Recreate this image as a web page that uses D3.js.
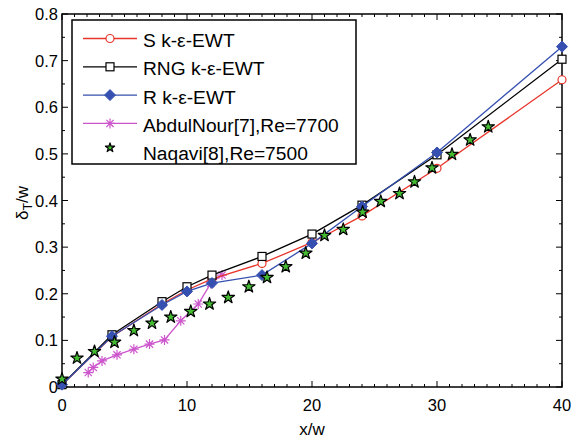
<!DOCTYPE html>
<html lang='en'>
<head>
<meta charset='utf8'>
<title>delta_T / w</title>
<script src="https://cdn.jsdelivr.net/npm/d3@7"></script>
<style>
  body { margin: 0; background: #fff; }
  svg text { font-family: 'Liberation Sans', Arial, sans-serif; fill: #000; }
</style>
</head>
<body>
<svg id='chart' width='579' height='443'></svg>
<script>
// simulation series (x/w, delta_T/w)
var simX = [0, 4, 8, 10, 12, 16, 20, 24, 30, 40];
var sKe = [0.005, 0.108, 0.178, 0.208, 0.232, 0.265, 0.31, 0.367, 0.469, 0.659];
var rngKe = [0.005, 0.112, 0.183, 0.215, 0.24, 0.28, 0.328, 0.39, 0.498, 0.703];
var rKe = [0.005, 0.109, 0.176, 0.205, 0.223, 0.24, 0.308, 0.387, 0.503, 0.73];

// AbdulNour[7], Re=7700
var abdX = [2.1, 2.5, 3.2, 4.4, 5.75, 7.0, 8.2, 9.5, 10.9, 11.9, 12.8];
var abdY = [0.031, 0.042, 0.056, 0.069, 0.081, 0.092, 0.101, 0.142, 0.178, 0.222, 0.24];

// Naqavi[8], Re=7500
var naqX = [0, 1.2, 2.6, 4.2, 5.75, 7.2, 8.7, 10.3, 11.8, 13.3, 14.95, 16.4, 17.9, 19.5,
            21, 22.5, 24.05, 25.5, 27, 28.2, 29.6, 31.2, 32.65, 34.1];
var naqY = [0.017, 0.062, 0.076, 0.096, 0.121, 0.137, 0.15, 0.162, 0.178, 0.192, 0.215, 0.235,
            0.258, 0.287, 0.325, 0.338, 0.375, 0.398, 0.415, 0.44, 0.47, 0.499, 0.53, 0.558];

var legendLabels = ['S k-\u03b5-EWT', 'RNG k-\u03b5-EWT', 'R k-\u03b5-EWT',
                    'AbdulNour[7],Re=7700', 'Naqavi[8],Re=7500'];

var svg = d3.select('#chart');
var pL = 62, pR = 562, pT = 14, pB = 387;

var x = d3.scaleLinear().domain([0, 40]).range([pL, pR]);
var y = d3.scaleLinear().domain([0, 0.8]).range([pB, pT]);

// frame
svg.append('rect')
  .attr('x', pL).attr('y', pT)
  .attr('width', pR - pL).attr('height', pB - pT)
  .attr('fill', 'none').attr('stroke', '#000').attr('stroke-width', 1.5);

// ticks (inward, all four sides)
var tk = svg.append('g').attr('stroke', '#000').attr('stroke-width', 1);
d3.range(0, 40.01, 1).forEach(function(v) {
  var len = (v % 10 === 0) ? 6 : 3;
  tk.append('line').attr('x1', x(v)).attr('x2', x(v)).attr('y1', pB).attr('y2', pB - len);
  tk.append('line').attr('x1', x(v)).attr('x2', x(v)).attr('y1', pT).attr('y2', pT + len);
});
d3.range(0, 0.801, 0.05).forEach(function(v) {
  var major = Math.abs(Math.round(v * 10) - v * 10) < 1e-6;
  var len = major ? 6 : 3;
  tk.append('line').attr('y1', y(v)).attr('y2', y(v)).attr('x1', pL).attr('x2', pL + len);
  tk.append('line').attr('y1', y(v)).attr('y2', y(v)).attr('x1', pR).attr('x2', pR - len);
});

// tick labels
[0, 10, 20, 30, 40].forEach(function(v) {
  svg.append('text').attr('x', x(v)).attr('y', pB + 24)
    .attr('text-anchor', 'middle').attr('font-size', 16.5).text(v);
});
d3.range(0, 0.801, 0.1).forEach(function(v) {
  svg.append('text').attr('x', pL - 4).attr('y', y(v) + 6)
    .attr('text-anchor', 'end').attr('font-size', 16.5)
    .text(v < 1e-6 ? '0' : d3.format('.1f')(v));
});

// axis titles
svg.append('text').attr('x', (pL + pR) / 2).attr('y', 435)
  .attr('text-anchor', 'middle').attr('font-size', 17).text('x/w');
var yl = svg.append('text')
  .attr('transform', 'translate(28,203) rotate(-90)')
  .attr('text-anchor', 'middle').attr('font-size', 17);
yl.append('tspan').text('\u03b4');
yl.append('tspan').attr('dy', 4).attr('font-size', 12.5).text('T');
yl.append('tspan').attr('dy', -4).text('/w');

// markers
var starPath = d3.symbol().type(d3.symbolStar).size(48)();
var starSmall = d3.symbol().type(d3.symbolStar).size(26)();
var diamondPath = 'M0,-5.5L5.5,0L0,5.5L-5.5,0Z';
var asterisk = 'M0,-5V5M-5,0H5M-3.6,-3.6L3.6,3.6M-3.6,3.6L3.6,-3.6';

function drawMarker(g, kind, px, py) {
  if (kind === 'circle') {
    g.append('circle').attr('cx', px).attr('cy', py).attr('r', 4)
      .attr('fill', '#fff').attr('stroke', '#e8352b').attr('stroke-width', 1.2);
  } else if (kind === 'square') {
    g.append('rect').attr('x', px - 4).attr('y', py - 4).attr('width', 8).attr('height', 8)
      .attr('fill', '#fff').attr('stroke', '#000').attr('stroke-width', 1.2);
  } else if (kind === 'diamond') {
    g.append('path').attr('d', diamondPath).attr('transform', 'translate(' + px + ',' + py + ')')
      .attr('fill', '#3550b0').attr('stroke', '#3550b0');
  } else if (kind === 'asterisk') {
    g.append('path').attr('d', asterisk).attr('transform', 'translate(' + px + ',' + py + ')')
      .attr('fill', 'none').attr('stroke', '#cc55cc').attr('stroke-width', 1.2);
  } else if (kind === 'star' || kind === 'starSmall') {
    g.append('path').attr('d', kind === 'star' ? starPath : starSmall)
      .attr('transform', 'translate(' + px + ',' + py + ')')
      .attr('fill', '#44bb33').attr('stroke', '#000').attr('stroke-width', 1.2)
      .attr('stroke-linejoin', 'round');
  }
}

var series = [
  { xs: abdX, ys: abdY, color: '#cc55cc', marker: 'asterisk' },
  { xs: simX, ys: sKe, color: '#e8352b', marker: 'circle' },
  { xs: simX, ys: rngKe, color: '#000', marker: 'square' },
  { xs: simX, ys: rKe, color: '#3550b0', marker: 'diamond' }
];

var line = d3.line();
var plot = svg.append('g');
series.forEach(function(s) {
  var pts = s.xs.map(function(v, i) { return [x(v), y(s.ys[i])]; });
  plot.append('path').attr('d', line(pts)).attr('fill', 'none')
    .attr('stroke', s.color).attr('stroke-width', 1.3);
  pts.forEach(function(p) { drawMarker(plot, s.marker, p[0], p[1]); });
});
naqX.forEach(function(v, i) { drawMarker(plot, 'star', x(v), y(naqY[i])); });

// legend
var lg = svg.append('g');
lg.append('rect').attr('x', 72).attr('y', 20).attr('width', 284).attr('height', 144)
  .attr('fill', '#fff').attr('stroke', '#000').attr('stroke-width', 1.5);
var legendKinds = [
  { color: '#e8352b', marker: 'circle' },
  { color: '#000', marker: 'square' },
  { color: '#3550b0', marker: 'diamond' },
  { color: '#cc55cc', marker: 'asterisk' },
  { color: null, marker: 'starSmall' }
];
legendLabels.forEach(function(lbl, i) {
  var ly = 38.5 + i * 28.3;
  var k = legendKinds[i];
  if (k.color) {
    lg.append('line').attr('x1', 83).attr('x2', 137).attr('y1', ly).attr('y2', ly)
      .attr('stroke', k.color).attr('stroke-width', 1.3);
    drawMarker(lg, k.marker, 110, ly);
  } else {
    drawMarker(lg, k.marker, 110, ly - 4);
  }
  lg.append('text').attr('x', 143).attr('y', ly + 8.5).attr('font-size', 19.2).text(lbl);
});
</script>
</body>
</html>
